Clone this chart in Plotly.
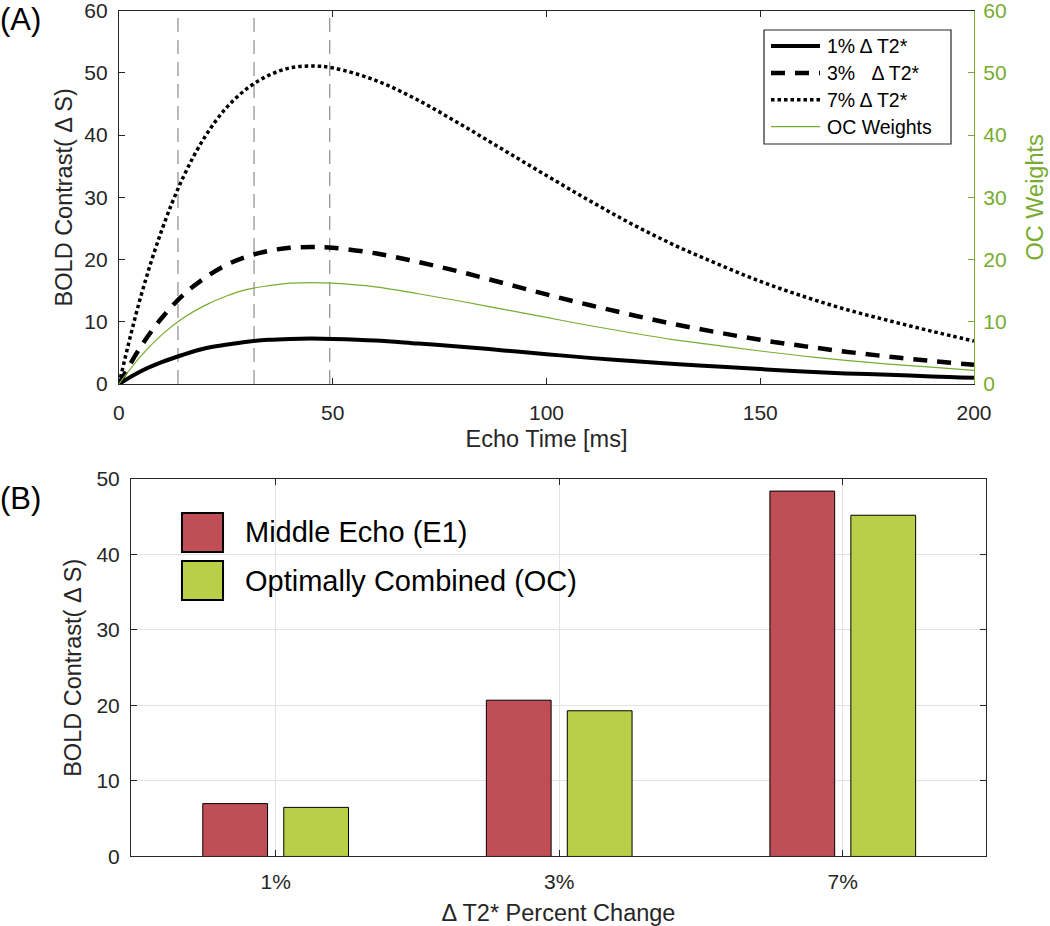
import plotly.graph_objects as go

# ---- Panel A: BOLD contrast vs echo time ----
echo_time = [0, 5, 10, 15, 20, 25, 30, 35, 40, 45, 50, 60, 70, 80, 90,
             100, 110, 120, 130, 140, 150, 160, 170, 180, 190, 200]
bold_1pct = [0, 2.0, 3.5, 4.7, 5.7, 6.3, 6.8, 7.1, 7.25, 7.3, 7.25, 7.0, 6.5,
             6.0, 5.4, 4.8, 4.2, 3.7, 3.2, 2.8, 2.4, 2.0, 1.7, 1.5, 1.2, 1.0]
bold_3pct = [0, 5.9, 10.6, 14.3, 17.0, 19.1, 20.5, 21.4, 21.9, 22.0, 21.9,
             21.0, 19.6, 18.0, 16.2, 14.4, 12.7, 11.1, 9.6, 8.3, 7.1, 6.1,
             5.2, 4.4, 3.7, 3.1]
bold_7pct = [0, 13.8, 24.7, 33.2, 39.6, 44.3, 47.5, 49.6, 50.8, 51.1, 50.8,
             48.8, 45.6, 41.7, 37.6, 33.5, 29.5, 25.7, 22.3, 19.3, 16.5,
             14.1, 12.0, 10.2, 8.5, 6.9]
oc_weights = [0, 4.4, 7.9, 10.6, 12.6, 14.1, 15.2, 15.8, 16.2, 16.3, 16.2,
              15.6, 14.5, 13.3, 12.0, 10.7, 9.4, 8.2, 7.1, 6.2, 5.3, 4.5,
              3.8, 3.2, 2.7, 2.2]
echo_markers = [13.8, 31.6, 49.3]

# ---- Panel B: contrast per T2* change ----
pct_change = ["1%", "3%", "7%"]
middle_echo = [7.0, 20.7, 48.4]
optimal_comb = [6.5, 19.3, 45.2]

AX = "#262626"
GREEN = "#77AC30"
RED_BAR = "#C04E56"
GREEN_BAR = "#B9CF48"
FONT = "Liberation Sans, Arial, sans-serif"

line_styles = [
    ("1% \u0394 T2*", bold_1pct, dict(color="black", width=4), "y"),
    ("3%\u00a0\u00a0\u00a0\u0394 T2*", bold_3pct, dict(color="black", width=4.5, dash="14px,10px"), "y"),
    ("7% \u0394 T2*", bold_7pct, dict(color="black", width=3.5, dash="3.5px,3px"), "y"),
    ("OC Weights", oc_weights, dict(color=GREEN, width=1.2), "y2"),
]

fig = go.Figure()

for name, vals, style, yax in line_styles:
    fig.add_trace(go.Scatter(x=echo_time, y=vals, name=name, mode="lines",
                             line=dict(shape="spline", **style),
                             xaxis="x", yaxis=yax, showlegend=False))

# echo time markers
for te in echo_markers:
    fig.add_shape(type="line", xref="x", yref="y domain", x0=te, x1=te, y0=0, y1=1,
                  line=dict(color="#8c8c8c", width=1.2, dash="14px,8px"), layer="below")

# legend box for panel A (MATLAB-style, tight rows)
fig.add_shape(type="rect", xref="paper", yref="paper", x0=764 / 1050, x1=951 / 1050,
              y0=1 - 144 / 926, y1=1 - 30 / 926, fillcolor="white",
              line=dict(color=AX, width=1.2))
for i, (name, vals, style, yax) in enumerate(line_styles):
    yc = 1 - (46 + i * 26.9) / 926
    fig.add_shape(type="line", xref="paper", yref="paper", x0=771 / 1050, x1=820 / 1050,
                  y0=yc, y1=yc, line=style)
    fig.add_annotation(xref="paper", yref="paper", x=825 / 1050, y=yc, text=name,
                       showarrow=False, xanchor="left", yanchor="middle",
                       font=dict(size=19.5, color="black", family=FONT))

# bars
fig.add_trace(go.Bar(x=pct_change, y=middle_echo, name="Middle Echo (E1)",
                     marker=dict(color=RED_BAR, line=dict(color="black", width=1)),
                     xaxis="x2", yaxis="y3", showlegend=False))
fig.add_trace(go.Bar(x=pct_change, y=optimal_comb, name="Optimally Combined (OC)",
                     marker=dict(color=GREEN_BAR, line=dict(color="black", width=1)),
                     xaxis="x2", yaxis="y3", showlegend=False))

# hand-made legend for panel B (big boxes like the original)
legend_b = [(RED_BAR, "Middle Echo (E1)", 0.446, 0.4039),
            (GREEN_BAR, "Optimally Combined (OC)", 0.3942, 0.352)]
for col, label, ytop, ybot in legend_b:
    fig.add_shape(type="rect", xref="paper", yref="paper", x0=0.1733, x1=0.2124,
                  y0=ybot, y1=ytop, fillcolor=col, line=dict(color="black", width=2))
    fig.add_annotation(xref="paper", yref="paper", x=0.2314, y=(ytop + ybot) / 2,
                       text=label, showarrow=False, xanchor="left", yanchor="middle",
                       font=dict(size=29, color="black", family=FONT))

# panel labels
fig.add_annotation(xref="paper", yref="paper", x=-0.002, y=0.979, text="(A)",
                   showarrow=False, xanchor="left", yanchor="middle",
                   font=dict(size=31, color="black", family=FONT))
fig.add_annotation(xref="paper", yref="paper", x=-0.002, y=0.462, text="(B)",
                   showarrow=False, xanchor="left", yanchor="middle",
                   font=dict(size=31, color="black", family=FONT))

tick_font = dict(size=21, color=AX, family=FONT)
title_font = dict(size=23.5, color=AX, family=FONT)

common = dict(automargin=False, zeroline=False, ticklen=6, linewidth=1.2,
              ticklabeloverflow="allow")

fig.update_layout(
    width=1050, height=926,
    margin=dict(l=0, r=0, t=0, b=0, autoexpand=False),
    paper_bgcolor="white", plot_bgcolor="white",
    font=dict(family=FONT, color=AX),
    barmode="group", bargap=0.429, bargroupgap=0.2,
    showlegend=False,
    xaxis=dict(domain=[0.1133, 0.9276], anchor="y", range=[0, 200],
               tickvals=[0, 50, 100, 150, 200], ticks="inside",
               tickcolor=AX, showline=True, linecolor=AX,
               mirror="ticks", showgrid=False, tickfont=tick_font,
               ticklabelstandoff=10,
               title=dict(text="Echo Time [ms]", font=title_font, standoff=7),
               **common),
    yaxis=dict(domain=[0.5853, 0.9885], anchor="x", range=[0, 60],
               tickvals=[0, 10, 20, 30, 40, 50, 60], ticks="inside",
               tickcolor=AX, showline=True, linecolor=AX,
               showgrid=False, tickfont=tick_font, ticklabelstandoff=6,
               title=dict(text="BOLD Contrast( \u0394 S)", font=title_font, standoff=5),
               **common),
    yaxis2=dict(overlaying="y", anchor="x", side="right", range=[0, 60],
                tickvals=[0, 10, 20, 30, 40, 50, 60], ticks="inside",
                tickcolor=GREEN, showline=True, linecolor=GREEN,
                showgrid=False, ticklabelstandoff=4,
                tickfont=dict(size=21, color=GREEN, family=FONT),
                title=dict(text="OC Weights", font=dict(size=23.5, color=GREEN, family=FONT),
                           standoff=20),
                **common),
    xaxis2=dict(domain=[0.1248, 0.9390], anchor="y3", type="category",
                range=[-0.51, 2.505], ticks="inside", tickcolor=AX,
                showline=True, linecolor=AX, mirror="ticks",
                showgrid=True, gridcolor="#e3e3e3", gridwidth=1,
                tickfont=tick_font, ticklabelstandoff=6,
                title=dict(text="\u0394 T2* Percent Change", font=title_font, standoff=12),
                **common),
    yaxis3=dict(domain=[0.0751, 0.4827], anchor="x2", range=[0, 50],
                tickvals=[0, 10, 20, 30, 40, 50], ticks="inside",
                tickcolor=AX, showline=True, linecolor=AX,
                mirror="ticks", showgrid=True, gridcolor="#e3e3e3", gridwidth=1,
                tickfont=tick_font, ticklabelstandoff=6,
                title=dict(text="BOLD Contrast( \u0394 S)", font=title_font, standoff=8),
                **common),
)

# drop the browser's default 8px body margin so the figure sits at the page origin
fig.write_html("out.html", config={"displayModeBar": False},
               post_script="document.body.style.margin='0px';")
